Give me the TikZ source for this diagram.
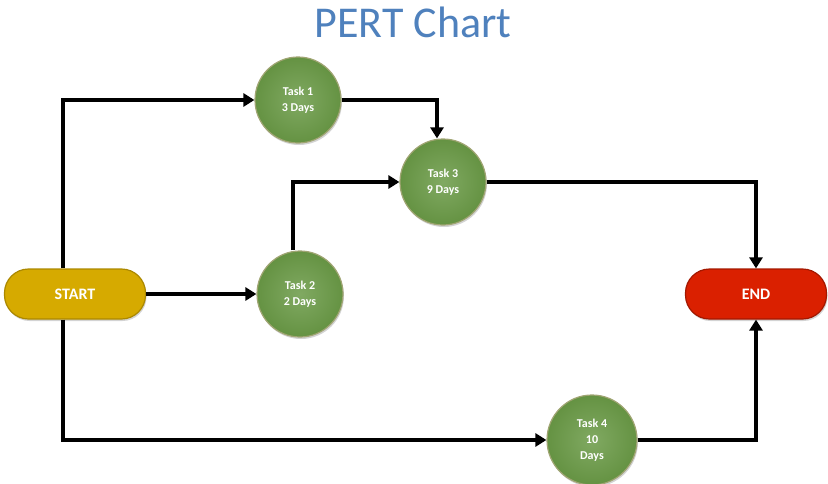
\documentclass[tikz,border=0pt]{standalone}
\usepackage{fontspec}
\setmainfont{Carlito}
\usetikzlibrary{arrows.meta, shadows}

\definecolor{taskgreen}{RGB}{106,154,70}
\definecolor{taskrim}{RGB}{160,165,115}
\definecolor{startgold}{RGB}{214,170,0}
\definecolor{endred}{RGB}{218,32,0}
\definecolor{titleblue}{RGB}{79,129,189}

\begin{document}
\begin{tikzpicture}[
    x=1pt, y=-1pt,
    >={Triangle[length=11pt, width=13pt]}, line width=3.5pt,
    task/.style={circle, minimum size=86pt, inner sep=0pt, line width=1.2pt,
        draw=taskrim, inner color=taskgreen!85!white, outer color=taskgreen!95!black,
        drop shadow={opacity=0.35, shadow xshift=1pt, shadow yshift=-2pt},
        text=white, font=\fontsize{12}{16}\selectfont\bfseries, align=center},
    terminal/.style={rectangle, rounded corners=24pt, minimum width=141pt,
        minimum height=50pt, line width=1.2pt, text=white,
        drop shadow={opacity=0.35, shadow xshift=1pt, shadow yshift=-2pt},
        font=\fontsize{16}{18}\selectfont\bfseries},
    hv/.style={to path={-| (\tikztotarget)}},
    vh/.style={to path={|- (\tikztotarget)}}
]
    \useasboundingbox (0,0) rectangle (828,483);

    \node[text=titleblue, font=\fontsize{44}{48}\selectfont] (title) at (413,22) {PERT Chart};

    \node[terminal, fill=startgold, draw=startgold!80!black] (start) at (75,294) {START};
    \node[terminal, fill=endred, draw=endred!75!black] (end) at (756,294) {END};

    \node[task] (task1) at (298,100) {Task 1\\3 Days};
    \node[task] (task2) at (300,294) {Task 2\\2 Days};
    \node[task] (task3) at (443,182) {Task 3\\9 Days};
    \node[task, minimum size=90pt] (task4) at (592,440) {Task 4\\10\\Days};

    \path[->]
        ([xshift=-12pt]start.north) edge[vh] (task1)
        (start) edge (task2)
        ([xshift=-12pt]start.south) edge[vh] (task4)
        (task1) edge[hv] ([xshift=-6pt]task3.north)
        ([xshift=-7pt]task2.north) edge[vh] (task3)
        (task3) edge[hv] (end)
        (task4) edge[hv] (end);

\end{tikzpicture}
\end{document}
